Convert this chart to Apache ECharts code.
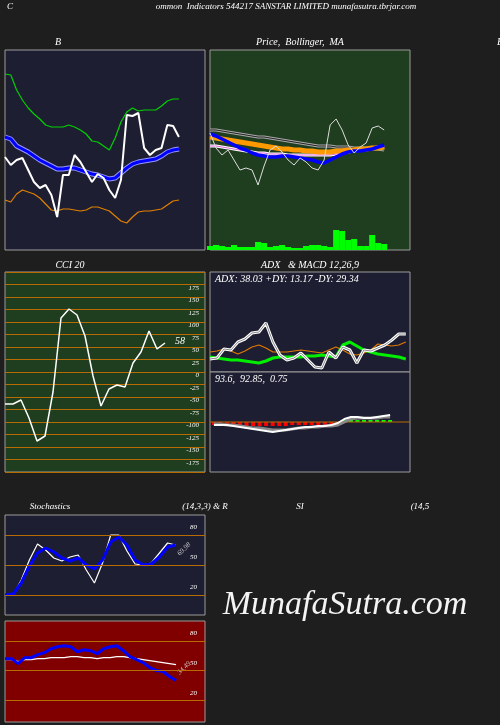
<!DOCTYPE html>
<html><head><meta charset="utf-8">
<script src="https://cdn.jsdelivr.net/npm/echarts@6/dist/echarts.min.js"></script>
<style>html,body{margin:0;padding:0;background:#1e1e1e;}#c{width:500px;height:725px;}</style>
</head><body><div id="c"></div>
<script>
// Bollinger panel
const bbUpper=[176,175,160,150,142,136,131,125,123,123,123,125,123,120,116,109,108,104,100,112,128,138,142,139,140,140,140,144,149,151,151];
const bbMid=[113,111,104,101,98,94,90,87,84,81,81,82,82,80,78,76,75,73,71,72,77,82,86,88,89,90,91,94,98,100,101];
const bbLower=[50,48,56,60,58,56,52,46,40,39,41,41,40,39,40,43,43,41,39,34,29,27,33,38,39,39,40,41,45,49,50];
const bbPrice=[93,85,90,92,80,68,62,65,55,33,75,75,95,88,78,68,76,72,60,52,70,135,134,137,102,95,100,102,125,124,113];
// Price panel
const prClose=[117,102,95,100,90,80,82,80,65,84,100,104,98,90,85,92,88,82,80,90,125,131,120,105,97,103,107,122,124,120];
const prMA1=[116,114,111,108,105,102,100,97,95,94,93,93,94,94,93,92,91,90,88,87,90,93,96,98,99,99,100,101,103,105];
const prMA2=[113,112,111,110,109,108,107,106,105,104,103,102,101,101,100,100,99,99,98,98,98,99,99,100,100,101,101,102,102,103];
const prUp=[120,120,119,118,117,116,115,114,113,113,112,111,110,109,108,107,106,105,104,104,104,103,103,103,102,102,102,101,101,100];
const prLow=[104,104,103,102,101,100,99,98,97,97,96,96,96,95,95,95,95,95,95,95,95,96,97,98,99,100,101,102,103,103];
const volume=[40,50,40,30,50,30,30,30,80,70,30,40,50,30,20,20,40,50,50,40,30,200,190,100,110,40,40,150,70,60];
// CCI
const cci=[-64,-64,-56,-92,-138,-128,-40,108,126,114,72,-8,-68,-34,-26,-30,18,40,82,46,58];
const cciTicks=[175,150,125,100,75,50,25,0,-25,-50,-75,-100,-125,-150,-175];
// ADX
const adxLine=[13,14,23,22,30,33,39,40,49,30,17,12,14,19,12,5,4,20,14,25,22,9,22,21,24,27,32,38,38];
const plusDI=[15,14,13,12,12,11,10,9,11,14,15,15,15,15,16,16,17,16,15,27,30,26,22,20,18,17,16,15,13];
const minusDI=[20,21,23,21,18,21,25,27,24,20,20,20,21,22,21,20,19,22,25,22,18,17,19,22,28,27,26,27,30];
// MACD
const macd=[-3,-3,-3,-4,-5,-6,-7,-8,-9,-10,-9,-8,-7,-6,-5,-5,-4,-4,-3,-1,3,5,5,4,4,5,6,7];
const signal=[-2,-2,-3,-3,-4,-5,-6,-6,-7,-8,-8,-8,-7,-6,-6,-5,-5,-4,-4,-3,0,3,4,4,4,4,5,5];
const hist=[-3,-3,-3,-3,-3,-4,-4,-4,-4,-4,-4,-4,-3,-3,-3,-3,-3,-3,-3,-2,2,2,2,2,2,2,2,2];
// Stochastics
const stochK=[20,20,35,55,71,65,57,54,58,60,45,32,52,80,80,64,51,50,52,62,72,70];
const stochD=[20,21,32,49,62,67,63,57,54,57,50,46,55,73,78,70,55,50,51,58,68,70];
// RSI
const rsiA=[62,62,57,63,63,66,68,72,74,75,74,69,71,70,67,72,74,75,70,64,61,58,53,50,49,44,40];
const rsiB=[61,61,59,61,61,62,62,63,63,63,64,64,63,63,62,63,63,64,64,63,62,61,60,59,58,57,56];
const levels=[80,50,20];

const ORG='#b86b00', FONT='Liberation Serif';
const panels=[
 {l:5,t:50,w:200,h:200,bg:'#1e1e32',xmax:34.5,ymin:0,ymax:200},
 {l:210,t:50,w:200,h:200,bg:'#1f3d1f',xmax:33.3,ymin:0,ymax:200},
 {l:5,t:272,w:200,h:200,bg:'#1f3d1f',xmax:25,ymin:-200,ymax:200},
 {l:210,t:272,w:200,h:100,bg:'#1e1e32',xmax:28.6,ymin:0,ymax:100},
 {l:210,t:372,w:200,h:100,bg:'#1e1e32',xmin:-0.6,xmax:30.05,ymin:-50,ymax:50},
 {l:5,t:515,w:200,h:100,bg:'#1e1e32',xmax:24.6,ymin:0,ymax:100},
 {l:5,t:621,w:200,h:101,bg:'#800000',xmax:30.4,ymin:-2,ymax:100}
];
const grid=panels.map(p=>({left:p.l,top:p.t,width:p.w,height:p.h,show:true,backgroundColor:p.bg,borderColor:'#9a9a9a',borderWidth:1}));
const xAxis=panels.map((p,i)=>({type:'value',gridIndex:i,min:p.xmin||0,max:p.xmax,show:false}));
const yAxis=panels.map((p,i)=>({type:'value',gridIndex:i,min:p.ymin,max:p.ymax,show:false}));
yAxis[2]={type:'value',gridIndex:2,min:-200,max:200,interval:25,position:'right',
 axisLine:{show:false},axisTick:{show:false},splitLine:{lineStyle:{color:ORG,width:1}},
 axisLabel:{inside:true,color:'#fff',fontSize:7,fontStyle:'italic',fontFamily:FONT,verticalAlign:'top',margin:6,
  formatter:v=>cciTicks.includes(v)?String(v):''}};
yAxis.push({type:'value',gridIndex:1,min:0,max:2000,show:false});
const pts=a=>a.map((v,i)=>[i,v]);
function L(g,a,color,w,extra){return Object.assign({type:'line',xAxisIndex:g,yAxisIndex:g,data:pts(a),symbol:'none',lineStyle:{color:color,width:w},silent:true,animation:false},extra||{});}
function lvl(){return {symbol:'none',silent:true,lineStyle:{color:ORG,width:1,type:'solid'},
 label:{position:'insideEndTop',color:'#fff',fontSize:7,fontStyle:'italic',fontFamily:FONT,distance:[8,4],formatter:p=>p.value},
 data:levels.map(v=>({yAxis:v}))};}
const series=[
 L(0,bbUpper,'#00d000',1.2),L(0,bbLower,'#e08000',1.2),
 L(0,bbMid,'#9999ff',5),L(0,bbMid,'#0000ff',3),L(0,bbPrice,'#ffffff',2),
 {type:'bar',xAxisIndex:1,yAxisIndex:7,data:pts(volume),barWidth:6,itemStyle:{color:'#00ff00'},silent:true,animation:false},
 L(1,prUp,'#aaaaaa',3),L(1,prUp,'#222222',1),
 L(1,prLow,'#ffffff',3),L(1,prLow,'#dd66dd',1),
 L(1,prMA2,'#ff9900',5),L(1,prMA1,'#0000ff',3.5),L(1,prClose,'#dddddd',1),
 L(2,cci,'#ffffff',1.5),
 L(3,minusDI,'#e07800',1.2),L(3,plusDI,'#00ee00',3),L(3,adxLine,'#ffffff',3),L(3,adxLine,'#888888',1),
 L(4,[0,0],ORG,1,{data:[[-0.6,0],[30.05,0]]}),
 {type:'bar',xAxisIndex:4,yAxisIndex:4,data:hist.map((v,i)=>({value:[i,v],itemStyle:{color:v<0?'#ff0000':'#00ff00'}})),barWidth:4,silent:true,animation:false},
 L(4,signal,'#888888',3),L(4,macd,'#ffffff',2),
 L(5,stochK,'#ffffff',1.2,{markLine:lvl()}),L(5,stochD,'#0000ff',3),
 L(6,rsiB,'#ffffff',1.2,{markLine:lvl()}),L(6,rsiA,'#0000ff',3)
];
const T=(x,y,t,o)=>Object.assign({type:'text',x:x,y:y,style:Object.assign({text:t,fill:'#fff',fontSize:9,fontStyle:'italic',fontFamily:FONT,textAlign:'center',textVerticalAlign:'middle'},o||{})});
const graphic=[
 T(10,7,'C'),T(286,7,'ommon  Indicators 544217 SANSTAR LIMITED munafasutra.tbrjar.com'),
 T(58,42,'B',{fontSize:10}),T(300,42,'Price,  Bollinger,  MA',{fontSize:10}),T(500,42,'B',{fontSize:10}),
 T(70,265,'CCI 20',{fontSize:10}),T(310,265,'ADX   & MACD 12,26,9',{fontSize:10}),
 T(50,507,'Stochastics',{fontSize:9}),T(205,507,'(14,3,3) & R',{fontSize:9}),T(300,507,'SI',{fontSize:9}),T(420,507,'(14,5',{fontSize:9}),
 T(215,279,'ADX: 38.03 +DY: 13.17 -DY: 29.34',{textAlign:'left',fontSize:10}),
 T(215,379,'93.6,  92.85,  0.75',{textAlign:'left',fontSize:10}),
 T(180,341,'58',{fontSize:10}),
 {type:'text',x:184,y:549,rotation:Math.PI/4,style:{text:'69.98',fill:'#ccc',fontSize:7,fontStyle:'italic',fontFamily:FONT,textAlign:'center',textVerticalAlign:'middle'}},
 {type:'text',x:184,y:668,rotation:Math.PI/4,style:{text:'34.49',fill:'#ccc',fontSize:7,fontStyle:'italic',fontFamily:FONT,textAlign:'center',textVerticalAlign:'middle'}},
 T(345,605,'MunafaSutra.com',{fontSize:34,fill:'#f4f4f4'})
];
const ch=echarts.init(document.getElementById('c'),null,{renderer:'canvas'});
ch.setOption({backgroundColor:'#1e1e1e',animation:false,grid,xAxis,yAxis,series,graphic});
</script></body></html>
